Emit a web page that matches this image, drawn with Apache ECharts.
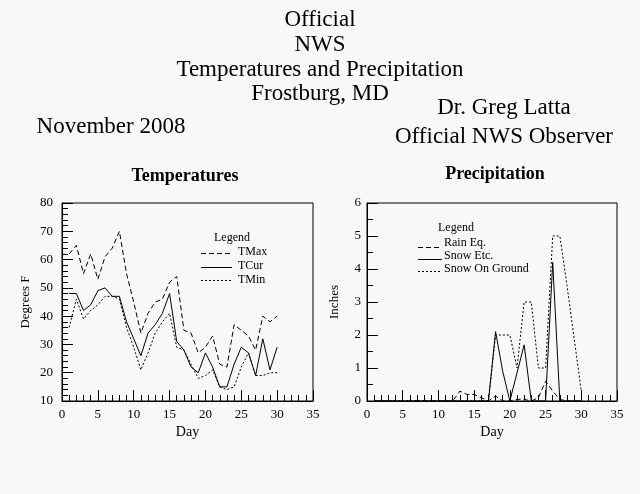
<!DOCTYPE html>
<html>
<head>
<meta charset="utf-8">
<script src="https://cdn.jsdelivr.net/npm/echarts@6/dist/echarts.min.js"></script>
<style>
html,body{margin:0;padding:0;background:#f8f8f8;}
#c{width:640px;height:494px;}
</style>
</head>
<body>
<div id="c"></div>
<script>
// ---- data ----
const days = [1,2,3,4,5,6,7,8,9,10,11,12,13,14,15,16,17,18,19,20,21,22,23,24,25,26,27,28,29,30];
const tMax = [62,65,55,62,53,61,64,70,55,45,34,41,45,46,52,54,35,34,27,29,33,23,22,37,35,33,28,40,38,40];
const tCur = [48,48,42,44,49,50,47,47,38,32,26,34,37,41,48,31,28,22,20,27,22,15,15,23,29,27,19,32,21,29];
const tMin = [36,46,39,42,44,47,47,46,36,29,21,27,34,38,41,29,28,23,18,19,21,15,14,15,22,27,19,19,20,20];
const rainEq = [0,0,0,0,0,0,0,0,0,0,0,0,0.3,0.2,0.2,0.1,0,0.15,0,0,0.05,0.05,0,0.1,0.6,0.3,0.05,0,0,0];
const snowEtc = [0,0,0,0,0,0,0,0,0,0,0,0,0,0,0,0,0,2.1,0.9,0,0.85,1.7,0,0,0,4.2,0,0,0,0];
const snowGround = [0,0,0,0,0,0,0,0,0,0,0,0,0,0,0,0,0,2,2,2,1,3,3,1,1,5,5,3.5,1.9,0.3];
const titleLines = ["Official","NWS","Temperatures and Precipitation","Frostburg, MD"];
const observerLines = ["Dr. Greg Latta","Official NWS Observer"];
const monthLabel = "November 2008";
const tempLegend = ["TMax","TCur","TMin"];
const precipLegend = ["Rain Eq.","Snow Etc.","Snow On Ground"];

const FONT = "Liberation Serif";
const pairs = (arr) => days.map((d,i)=>[d,arr[i]]);

function xAx(gi){
  return {
    type:'value', gridIndex:gi, min:0, max:35, interval:5,
    name:'Day', nameLocation:'middle', nameGap:24,
    nameTextStyle:{fontFamily:FONT,fontSize:14,color:'#000'},
    axisLine:{show:true,lineStyle:{color:'#000',width:1}},
    axisTick:{show:true,inside:true,length:11,lineStyle:{color:'#000'}},
    minorTick:{show:true,splitNumber:5,length:6,lineStyle:{color:'#000'}},
    axisLabel:{fontFamily:FONT,fontSize:13,color:'#000',margin:7},
    splitLine:{show:false}
  };
}
function yAx(gi,min,max,interval,minorSplit,name,gap,margin){
  return {
    type:'value', gridIndex:gi, min:min, max:max, interval:interval,
    name:name, nameLocation:'middle', nameGap:gap, nameRotate:90,
    nameTextStyle:{fontFamily:FONT,fontSize:13,color:'#000'},
    axisLine:{show:true,lineStyle:{color:'#000',width:1}},
    axisTick:{show:true,inside:true,length:11,lineStyle:{color:'#000'}},
    minorTick:{show:true,splitNumber:minorSplit,length:6,lineStyle:{color:'#000'}},
    axisLabel:{fontFamily:FONT,fontSize:13,color:'#000',margin:margin},
    splitLine:{show:false}
  };
}
function ser(name,arr,gi,type){
  return {
    name:name, type:'line', xAxisIndex:gi, yAxisIndex:gi, data:pairs(arr),
    symbol:'none', animation:false,
    lineStyle:{color:'#000',width:1,type:type},
  };
}

const chart = echarts.init(document.getElementById('c'),null,{renderer:'canvas'});

const graphics = [];
const titleY = [20,45,70,94];
titleLines.forEach((t,i)=>graphics.push({type:'text',x:320,y:titleY[i],style:{text:t,font:'23px "'+FONT+'"',fill:'#000',textAlign:'center',textVerticalAlign:'middle'}}));
const obsY=[108,137];
observerLines.forEach((t,i)=>graphics.push({type:'text',x:504,y:obsY[i],style:{text:t,font:'23px "'+FONT+'"',fill:'#000',textAlign:'center',textVerticalAlign:'middle'}}));
graphics.push({type:'text',x:111,y:127,style:{text:monthLabel,font:'23px "'+FONT+'"',fill:'#000',textAlign:'center',textVerticalAlign:'middle'}});
graphics.push({type:'text',x:185,y:176,style:{text:'Temperatures',font:'bold 18px "'+FONT+'"',fill:'#000',textAlign:'center',textVerticalAlign:'middle'}});
graphics.push({type:'text',x:495,y:174,style:{text:'Precipitation',font:'bold 18px "'+FONT+'"',fill:'#000',textAlign:'center',textVerticalAlign:'middle'}});

// legend (temperatures)
graphics.push({type:'text',x:232,y:238,style:{text:'Legend',font:'12px "'+FONT+'"',fill:'#000',textAlign:'center',textVerticalAlign:'middle'}});
const tl = [{y:253,ty:252,dash:[5,3]},{y:267,ty:266,dash:'solid'},{y:280,ty:280,dash:[2,2]}];
tempLegend.forEach((t,i)=>{
  graphics.push({type:'line',shape:{x1:201,y1:tl[i].y+0.5,x2:232,y2:tl[i].y+0.5},style:{stroke:'#000',lineWidth:1,lineDash:tl[i].dash==='solid'?null:tl[i].dash}});
  graphics.push({type:'text',x:238,y:tl[i].ty,style:{text:t,font:'12px "'+FONT+'"',fill:'#000',textAlign:'left',textVerticalAlign:'middle'}});
});
// legend (precipitation)
graphics.push({type:'text',x:456,y:228,style:{text:'Legend',font:'12px "'+FONT+'"',fill:'#000',textAlign:'center',textVerticalAlign:'middle'}});
const pl = [{y:247,ty:243,dash:[5,3]},{y:259,ty:256,dash:'solid'},{y:271,ty:269,dash:[2,2]}];
precipLegend.forEach((t,i)=>{
  graphics.push({type:'line',shape:{x1:418,y1:pl[i].y+0.5,x2:442,y2:pl[i].y+0.5},style:{stroke:'#000',lineWidth:1,lineDash:pl[i].dash==='solid'?null:pl[i].dash}});
  graphics.push({type:'text',x:444,y:pl[i].ty,style:{text:t,font:'12px "'+FONT+'"',fill:'#000',textAlign:'left',textVerticalAlign:'middle'}});
});

chart.setOption({
  backgroundColor:'#f8f8f8',
  animation:false,
  grid:[
    {left:62,top:203,width:251,height:198,show:true,borderColor:'#000',borderWidth:1,backgroundColor:'transparent'},
    {left:367,top:203,width:250,height:198,show:true,borderColor:'#000',borderWidth:1,backgroundColor:'transparent'}
  ],
  xAxis:[xAx(0),xAx(1)],
  yAxis:[yAx(0,10,80,10,5,'Degrees F',30,9),yAx(1,0,6,1,2,'Inches',26,6)],
  series:[
    ser('TMax',tMax,0,[5,3]),
    ser('TCur',tCur,0,'solid'),
    ser('TMin',tMin,0,[2,2]),
    ser('Rain Eq.',rainEq,1,[5,3]),
    ser('Snow Etc.',snowEtc,1,'solid'),
    ser('Snow On Ground',snowGround,1,[2,2])
  ],
  graphic:graphics
});
</script>
</body>
</html>
